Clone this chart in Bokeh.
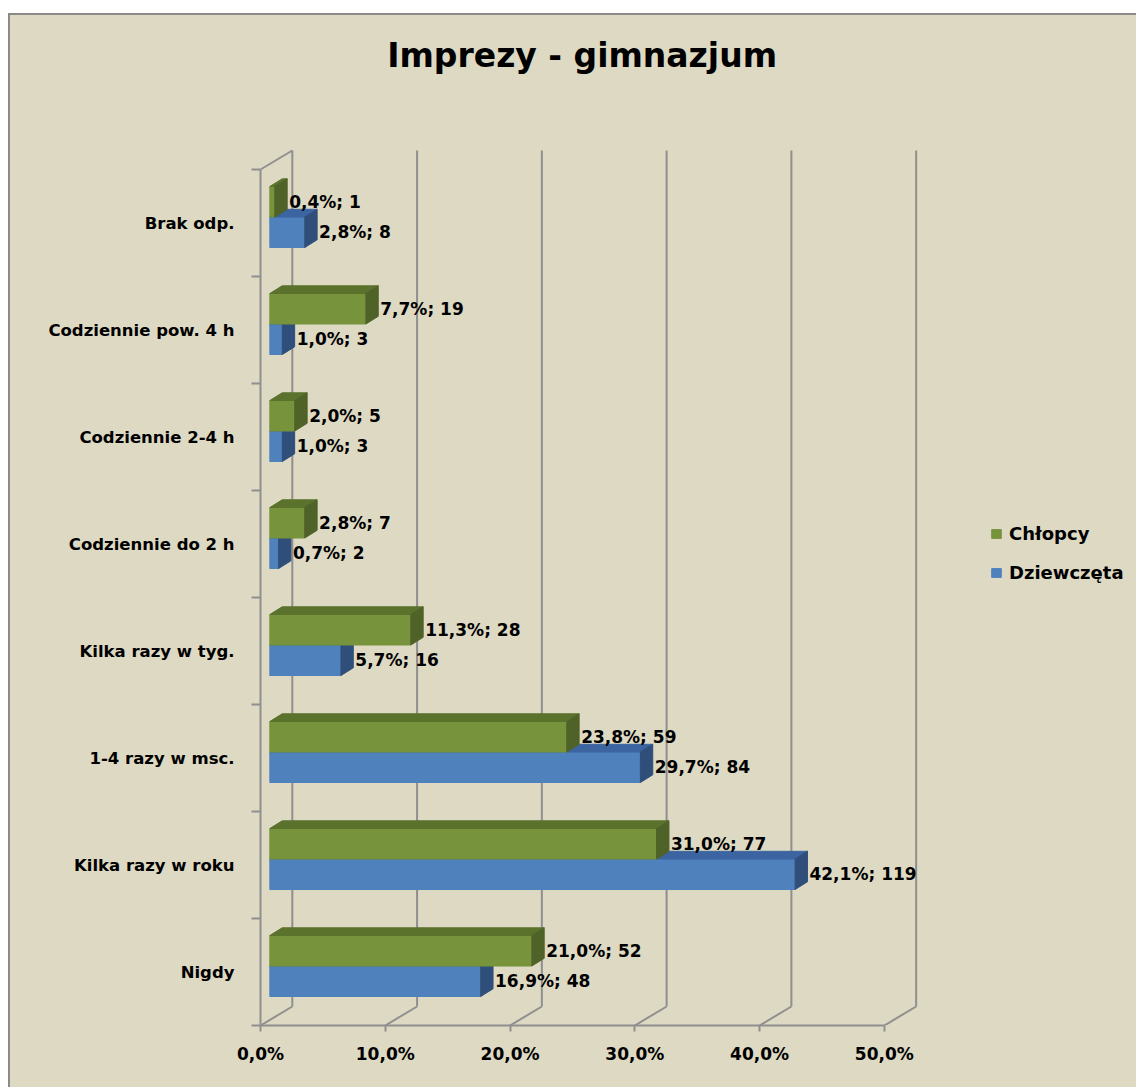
from bokeh.plotting import figure
from bokeh.models import Range1d, FixedTicker, Legend, LegendItem, Label, ColumnDataSource
from bokeh.embed import file_html
from bokeh.resources import INLINE
from bokeh.core.properties import value

# ---------------- data ----------------
categories = ["Nigdy", "Kilka razy w roku", "1-4 razy w msc.", "Kilka razy w tyg.",
              "Codziennie do 2 h", "Codziennie 2-4 h", "Codziennie pow. 4 h", "Brak odp."]
boys_pct = [21.0, 31.0, 23.8, 11.3, 2.8, 2.0, 7.7, 0.4]
boys_n = [52, 77, 59, 28, 7, 5, 19, 1]
girls_pct = [16.9, 42.1, 29.7, 5.7, 0.7, 1.0, 1.0, 2.8]
girls_n = [48, 119, 84, 16, 2, 3, 3, 8]
x_ticks = [0, 10, 20, 30, 40, 50]
series_names = ["Chłopcy", "Dziewczęta"]
title_text = "Imprezy - gimnazjum"

# ---------------- style ----------------
BG = "#DDD9C3"
GRID = "#8F8F8F"
FONT = "DejaVu Sans"
GREEN = ("#77933C", "#5B722D", "#4F6228")   # front, top, side
BLUE = ("#4F81BD", "#3C64A0", "#2F4F7A")

PX_X = 12.434        # px per 1 %
PX_Y = 107.0         # px per category band
X_END = 70.37        # visible % span of the frame
FRAME_H = 1010
DX_WALL = 31.7 / PX_X
DY_WALL = 19.0 / PX_Y
BAR_X0 = 9.3 / PX_X
BAR_DX = 12.3 / PX_X
BAR_DY = 7.7 / PX_Y
G_BOT = 29.0 / PX_Y
G_TOP = 59.5 / PX_Y
B_TOP = 90.0 / PX_Y
LBL_GAP = 2.0 / PX_X

n_cat = len(categories)

p = figure(width=1128, height=1074, output_backend="svg", toolbar_location=None,
           x_range=Range1d(0, X_END), y_range=Range1d(0, FRAME_H / PX_Y),
           min_border_left=250, min_border_right=0, min_border_top=0, min_border_bottom=64)
p.styles = {"border-left": "2px solid #8A8A8A", "border-top": "2px solid #8A8A8A",
            "margin-top": "13px", "margin-left": "8px", "background-color": BG}
p.background_fill_color = None
p.border_fill_color = None
p.outline_line_color = None
p.grid.visible = False

# ---------------- walls / grid ----------------
xmax = x_ticks[-1]
back_x = [t + DX_WALL for t in x_ticks]
p.segment(x0=back_x, y0=[DY_WALL] * len(x_ticks), x1=back_x, y1=[n_cat + DY_WALL] * len(x_ticks),
          line_color=GRID, line_width=2)
p.segment(x0=x_ticks, y0=[0] * len(x_ticks), x1=back_x, y1=[DY_WALL] * len(x_ticks),
          line_color=GRID, line_width=2)
p.segment(x0=[0], y0=[n_cat], x1=[DX_WALL], y1=[n_cat + DY_WALL], line_color=GRID, line_width=2)


# ---------------- bars ----------------
def bar_faces(vals, bottoms, tops):
    front = dict(left=[], right=[], bottom=[], top=[])
    top_xs, top_ys, side_xs, side_ys = [], [], [], []
    for v, b, t in zip(vals, bottoms, tops):
        x0 = BAR_X0
        x1 = BAR_X0 + v
        front["left"].append(x0); front["right"].append(x1)
        front["bottom"].append(b); front["top"].append(t)
        top_xs.append([x0, x0 + BAR_DX, x1 + BAR_DX, x1])
        top_ys.append([t, t + BAR_DY, t + BAR_DY, t])
        side_xs.append([x1, x1 + BAR_DX, x1 + BAR_DX, x1])
        side_ys.append([b, b + BAR_DY, t + BAR_DY, t])
    return front, top_xs, top_ys, side_xs, side_ys


def draw_series(vals, counts, bottoms, tops, cols):
    front, txs, tys, sxs, sys_ = bar_faces(vals, bottoms, tops)
    r = p.quad(source=ColumnDataSource(front), left="left", right="right", bottom="bottom", top="top",
               fill_color=cols[0], line_color=cols[0], line_width=1)
    p.patches(xs=txs, ys=tys, fill_color=cols[1], line_color=cols[1], line_width=1)
    p.patches(xs=sxs, ys=sys_, fill_color=cols[2], line_color=cols[2], line_width=1)
    labels = [f"{v:.1f}".replace(".", ",") + "%; " + str(c) for v, c in zip(vals, counts)]
    lx = [BAR_X0 + v + BAR_DX + LBL_GAP for v in vals]
    ly = [(b + t) / 2 for b, t in zip(bottoms, tops)]
    p.text(x=lx, y=ly, text=labels, text_font=value(FONT), text_font_style="bold",
           text_font_size="17px", text_color="#000000", text_align="left", text_baseline="middle")
    return r


g_bottoms = [i + G_BOT for i in range(n_cat)]
g_tops = [i + G_TOP for i in range(n_cat)]
b_tops = [i + B_TOP for i in range(n_cat)]

r_girls = draw_series(girls_pct, girls_n, g_bottoms, g_tops, BLUE)
r_boys = draw_series(boys_pct, boys_n, g_tops, b_tops, GREEN)

# ---------------- axes ----------------
xa = p.xaxis[0]
xa.ticker = FixedTicker(ticks=x_ticks, minor_ticks=[])
xa.major_label_overrides = {t: f"{t:.1f}".replace(".", ",") + "%" for t in x_ticks}
xa.bounds = (0, xmax)
xa.axis_line_color = GRID
xa.axis_line_width = 2
xa.major_tick_line_color = GRID
xa.major_tick_line_width = 2
xa.major_tick_out = 6
xa.major_tick_in = 0
xa.minor_tick_line_color = None
xa.major_label_standoff = 12
xa.major_label_text_font = FONT
xa.major_label_text_font_style = "bold"
xa.major_label_text_font_size = "17px"
xa.major_label_text_color = "#000000"

ya = p.yaxis[0]
ya.ticker = FixedTicker(ticks=[i + 0.5 for i in range(n_cat)], minor_ticks=list(range(n_cat + 1)))
ya.major_label_overrides = {i + 0.5: c for i, c in enumerate(categories)}
ya.bounds = (0, n_cat)
ya.axis_line_color = GRID
ya.axis_line_width = 2
ya.major_tick_line_color = None
ya.major_tick_out = 0
ya.major_tick_in = 0
ya.minor_tick_line_color = GRID
ya.minor_tick_line_width = 2
ya.minor_tick_out = 9
ya.minor_tick_in = 0
ya.major_label_standoff = 17
ya.major_label_text_font = FONT
ya.major_label_text_font_style = "bold"
ya.major_label_text_font_size = "16.5px"
ya.major_label_text_color = "#000000"

# ---------------- title ----------------
title = Label(x=(580.5 - 260) / PX_X, y=(1025 - 55) / PX_Y, text=title_text,
              text_font=FONT, text_font_style="bold", text_font_size="33px",
              text_align="center", text_baseline="middle", text_color="#000000")
p.add_layout(title)

# ---------------- legend ----------------
legend = Legend(items=[LegendItem(label=series_names[0], renderers=[r_boys]),
                       LegendItem(label=series_names[1], renderers=[r_girls])],
                location=(730, 442), orientation="vertical",
                glyph_width=12, glyph_height=11, label_standoff=7, spacing=18,
                label_height=20, padding=0, margin=0,
                border_line_color=None, background_fill_alpha=0,
                label_text_font=FONT, label_text_font_style="bold",
                label_text_font_size="18px", label_text_color="#000000")
p.add_layout(legend, "center")

open("out.html", "w").write(file_html(p, INLINE))
